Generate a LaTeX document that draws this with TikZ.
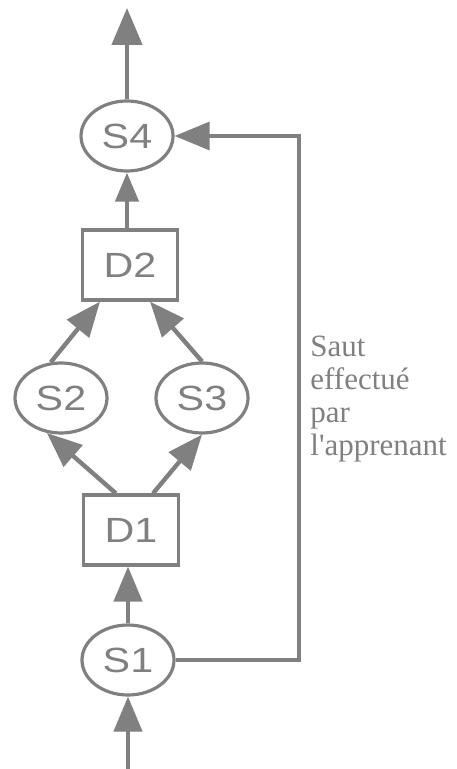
\documentclass[tikz,border=0pt]{standalone}
\usepackage{fontspec}
\setmainfont{Liberation Serif}
\newfontfamily\etiq[FakeStretch=1.18]{Liberation Sans}
\usetikzlibrary{arrows.meta,shapes.geometric}
\definecolor{grisfig}{gray}{0.5}
\begin{document}
\begin{tikzpicture}[x=0.5pt,y=-0.5pt,
    etape/.style={ellipse,draw=grisfig,line width=1.6pt,minimum width=46pt,minimum height=35pt,inner sep=0pt,text=grisfig,font=\etiq\fontsize{17.5}{17.5}\selectfont},
    decision/.style={rectangle,draw=grisfig,line width=1.6pt,minimum width=47.5pt,minimum height=35pt,inner sep=0pt,text=grisfig,font=\etiq\fontsize{17.5}{17.5}\selectfont},
    fleche/.style={draw=grisfig,line width=2.2pt,-{Triangle[length=17.5pt,width=14pt]},grisfig}]
\useasboundingbox (0,0) rectangle (456,769);
% les noeuds
\node[etape] (S4) at (127,136) {S4};
\node[decision] (D2) at (130,265) {D2};
\node[etape] (S2) at (61,398) {S2};
\node[etape] (S3) at (202,398) {S3};
\node[decision] (D1) at (131,530) {D1};
\node[etape] (S1) at (128,660) {S1};
\coordinate (haut) at (127,8);
\coordinate (bas) at (128,769);
\coordinate (droite) at (299,400);
% les fleches
\draw[fleche] (bas) -- (S1.south);
\draw[fleche] (S1.north) -- (S1.north |- D1.south);
\draw[fleche] (D1.north west) ++(17pt,0) coordinate (d1g) -- (S2.248);
\draw[fleche] (D1.north) ++(11pt,0) coordinate (d1d) -- (S3.south);
\draw[fleche] (S2.106) -- ([xshift=-15pt]D2.south);
\draw[fleche] (S3.north) -- ([xshift=10pt]D2.south);
\draw[fleche,-{Triangle[length=14.5pt,width=11.5pt]}] (D2.north -| S4.south) -- (S4.south);
\draw[fleche,-{Triangle[length=18.5pt,width=15pt]}] (S4.north) -- (haut);
\draw[fleche,line width=1.6pt] (S1.east) -- (S1.east -| droite) -- (droite |- S4.east) -- (S4.east);
% le texte
\node[anchor=north west,inner sep=0pt,align=left,text=grisfig,font=\fontsize{15.5}{16.5}\selectfont] (saut) at (310,336)
  {Saut\\effectué\\par\\l\textquotesingle apprenant};
\end{tikzpicture}
\end{document}
